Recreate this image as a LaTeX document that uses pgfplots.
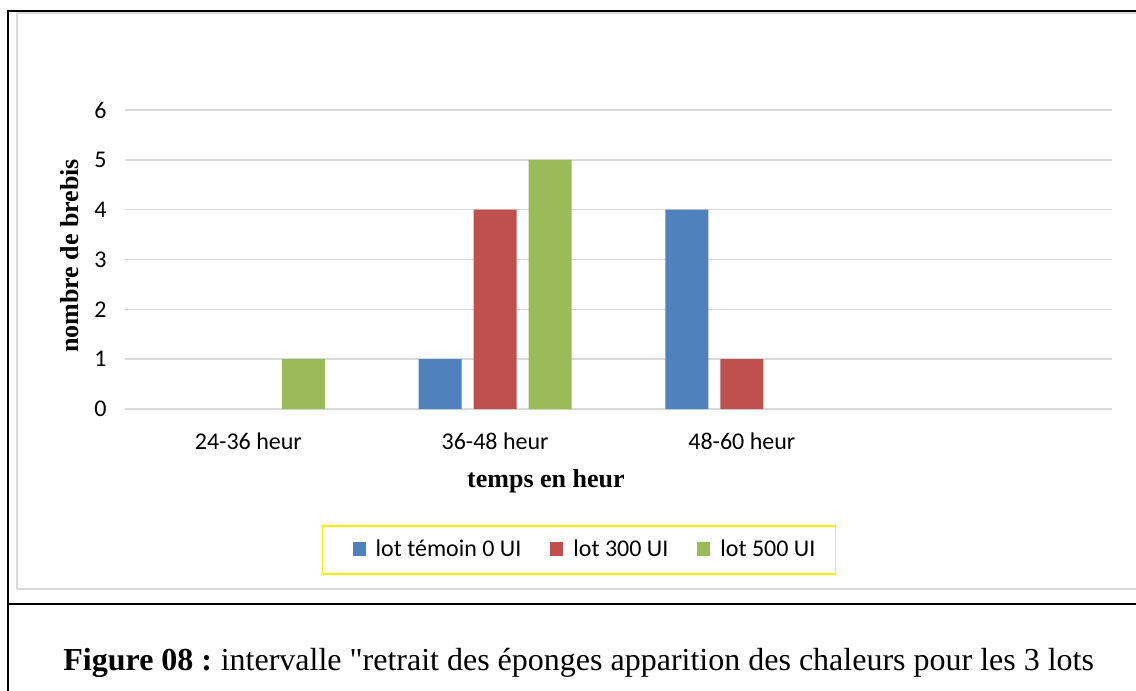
\documentclass[border=0pt]{standalone}
\usepackage{fontspec}
\setmainfont{Carlito}
\newfontfamily\tnr{Liberation Serif}
\usepackage{pgfplots}
\pgfplotsset{compat=1.18}
\definecolor{cblue}{HTML}{4F81BD}
\definecolor{cred}{HTML}{C0504D}
\definecolor{cgreen}{HTML}{9BBB59}
\definecolor{cgrid}{HTML}{D9D9D9}
\begin{document}
\begin{tikzpicture}
\begin{scope}[x=0.5pt,y=-0.5pt]
\path[use as bounding box] (0,0) rectangle (1136,691);
\draw[cgrid,line width=0.75pt] (17,589) -- (17,13) -- (1140,13);
\draw[cgrid,line width=0.75pt] (17,589) -- (1140,589);
\draw[black,line width=1.1pt] (8,691) -- (8,11) -- (1140,11);
\draw[black,line width=1.1pt] (8,604) -- (1140,604);
\node[anchor=base west,inner sep=0pt,font=\tnr\fontsize{16}{19}\selectfont] at (63,670) {\textbf{Figure 08 :}\hspace{-1pt} intervalle "retrait des éponges apparition des chaleurs pour les 3 lots};
\end{scope}
\begin{axis}[
  at={(62.5pt,-204.5pt)}, anchor=south west,
  scale only axis, width=493.5pt, height=149.5pt,
  xmin=-0.5, xmax=3.5, ymin=0, ymax=6,
  xtick={0,1,2,3}, xticklabels={24-36 heur,36-48 heur,48-60 heur,{}},
  ytick={0,1,2,3,4,5,6},
  /pgf/number format/assume math mode=true,
  axis line style={draw=none}, tick style={draw=none},
  ymajorgrids, grid style={cgrid, line width=0.75pt},
  ybar=6pt, bar width=21.5pt,
  tick label style={font=\fontsize{12}{14}\selectfont},
  yticklabel style={anchor=east, inner sep=0pt, xshift=-9pt},
  xticklabel style={anchor=north, inner sep=0pt, yshift=-7.5pt},
  xlabel={temps en heur}, ylabel={nombre de brebis},
  label style={font=\tnr\bfseries\fontsize{13}{15}\selectfont},
  x label style={at={(axis description cs:0.4265,-0.24)}, anchor=center, inner sep=0pt},
  y label style={at={(axis description cs:-0.0557,0.512)}, anchor=center, inner sep=0pt, rotate=0},
  legend columns=3,
  legend image code/.code={\path (-7pt,0pt) (9.5pt,0pt);\fill[#1] (0pt,-3pt) rectangle (6.5pt,4pt);},
  legend style={at={(axis description cs:0.46,-0.4716)}, anchor=center,
    draw=yellow, line width=0.75pt, font=\fontsize{12}{14}\selectfont,
    inner xsep=8pt, inner ysep=5pt,
    /tikz/every even column/.append style={column sep=5.5pt}},
]
\addplot[fill=cblue, draw=none] coordinates {(1,1) (2,4)};
\addplot[fill=cred, draw=none] coordinates {(1,4) (2,1)};
\addplot[fill=cgreen, draw=none] coordinates {(0,1) (1,5)};
\legend{lot témoin 0 UI, lot 300 UI, lot 500 UI}
\end{axis}
\end{tikzpicture}
\end{document}
